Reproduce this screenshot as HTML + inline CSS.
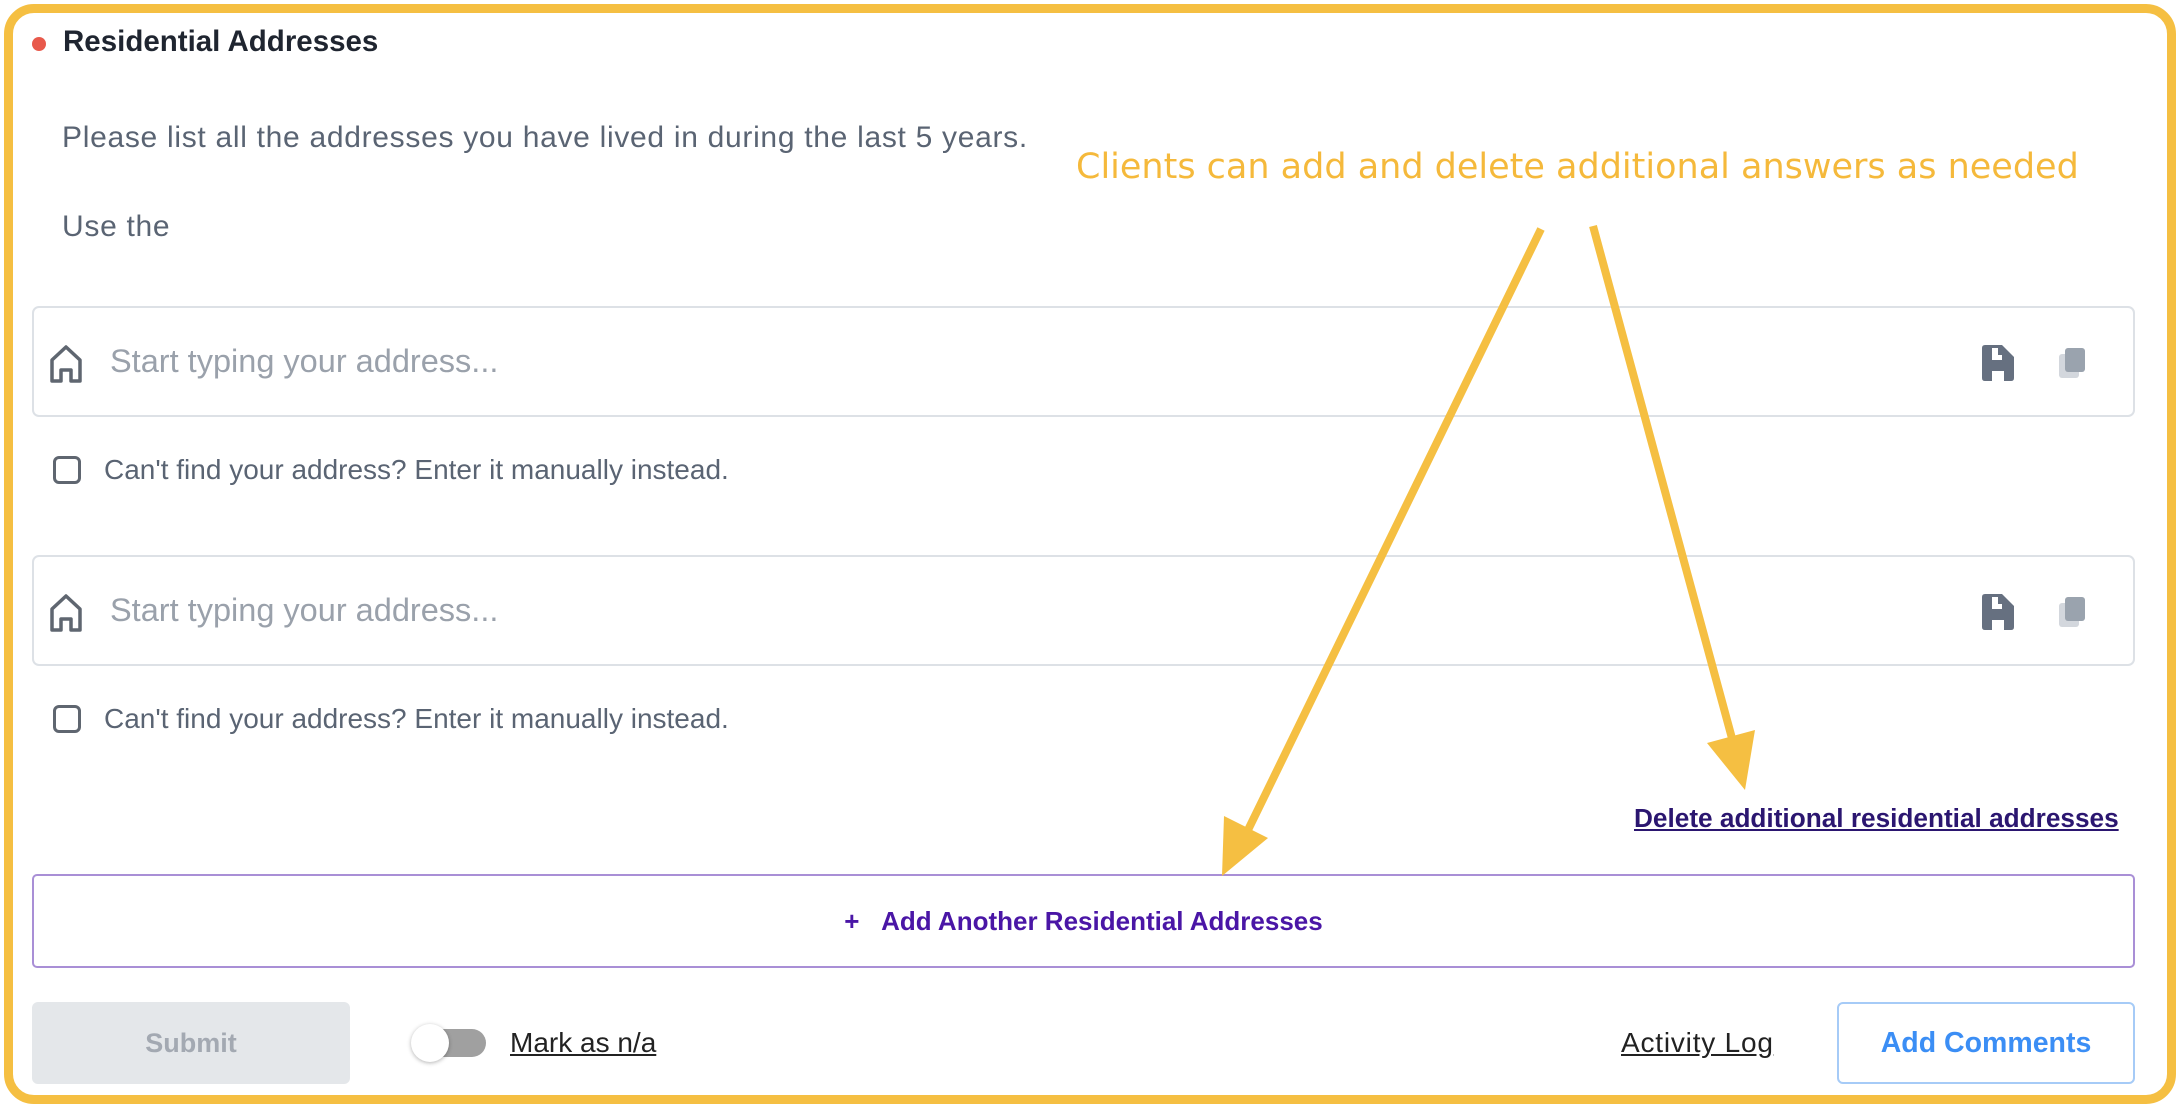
<!DOCTYPE html>
<html><head><meta charset="utf-8"><style>
*{margin:0;padding:0;box-sizing:border-box}
body{width:2180px;height:1110px;background:#fff;position:relative;overflow:hidden;font-family:"Liberation Sans",sans-serif}
.a{position:absolute;white-space:nowrap}
.frame{position:absolute;left:4px;top:4px;width:2172px;height:1100px;border:9px solid #f5bf42;border-radius:30px}
.box{position:absolute;left:32px;width:2103px;height:111px;border:2px solid #dde1e6;border-radius:7px}
.ph{font-size:32.5px;color:#9aa1ab;top:0;line-height:107px;left:76px}
.cb{position:absolute;width:28px;height:28px;border:3px solid #5f6670;border-radius:6px;left:53px}
.ct{font-size:28px;color:#5a6473;left:104px}
</style></head><body>
<div class="frame"></div>
<div class="a" style="left:32px;top:37px;width:14px;height:14px;border-radius:50%;background:#e8594b"></div>
<div class="a" style="left:63px;top:25px;font-size:29.5px;font-weight:bold;color:#1f2530">Residential Addresses</div>
<div class="a" style="left:62px;top:121px;font-size:30px;letter-spacing:0.7px;color:#5a6473">Please list all the addresses you have lived in during the last 5 years.</div>
<div class="a" style="left:62px;top:210px;font-size:30px;letter-spacing:0.7px;color:#5a6473">Use the</div>
<div class="a" style="left:1076px;top:147px;font-size:35px;color:#f5b93b;font-family:'DejaVu Sans',sans-serif">Clients can add and delete additional answers as needed</div>

<div class="box" style="top:306px">
<svg class="a" style="left:14px;top:36px" width="36" height="40" viewBox="0 0 36 40"><path d="M4 37V16L18 3L32 16V37H23V26H13V37Z" fill="none" stroke="#5f6670" stroke-width="3.5" stroke-linejoin="round"/></svg>
<div class="a ph">Start typing your address...</div>
<svg class="a" style="left:1946px;top:36px" width="36" height="38"><path d="M2 4Q2 1 5 1H22L34 13V34Q34 37 31 37H24V27H12V37H5Q2 37 2 34ZM12 4V16H22V11H18V4Z" fill="#667080"/></svg>
<svg class="a" style="left:2023px;top:38px" width="30" height="34"><rect x="2" y="8" width="20" height="24" rx="3" fill="#d3d7dd"/><rect x="8" y="2" width="20" height="24" rx="3" fill="#9aa3ae"/></svg>
</div>
<div class="cb" style="top:456px"></div>
<div class="a ct" style="top:454px">Can't find your address? Enter it manually instead.</div>

<div class="box" style="top:555px">
<svg class="a" style="left:14px;top:36px" width="36" height="40" viewBox="0 0 36 40"><path d="M4 37V16L18 3L32 16V37H23V26H13V37Z" fill="none" stroke="#5f6670" stroke-width="3.5" stroke-linejoin="round"/></svg>
<div class="a ph">Start typing your address...</div>
<svg class="a" style="left:1946px;top:36px" width="36" height="38"><path d="M2 4Q2 1 5 1H22L34 13V34Q34 37 31 37H24V27H12V37H5Q2 37 2 34ZM12 4V16H22V11H18V4Z" fill="#667080"/></svg>
<svg class="a" style="left:2023px;top:38px" width="30" height="34"><rect x="2" y="8" width="20" height="24" rx="3" fill="#d3d7dd"/><rect x="8" y="2" width="20" height="24" rx="3" fill="#9aa3ae"/></svg>
</div>
<div class="cb" style="top:705px"></div>
<div class="a ct" style="top:703px">Can't find your address? Enter it manually instead.</div>

<div class="a" style="left:1634px;top:803px;font-size:26.2px;font-weight:bold;color:#2b1670;text-decoration:underline">Delete additional residential addresses</div>

<div class="a" style="left:32px;top:874px;width:2103px;height:94px;border:2px solid #a98fd6;border-radius:5px;text-align:center;line-height:90px;font-size:26px;font-weight:bold;color:#4a16a6">+&nbsp;&nbsp;&nbsp;Add Another Residential Addresses</div>

<div class="a" style="left:32px;top:1002px;width:318px;height:82px;background:#e4e7ea;border-radius:6px;text-align:center;line-height:82px;font-size:27px;font-weight:bold;color:#a3a9b2">Submit</div>
<div class="a" style="left:418px;top:1029px;width:68px;height:28px;background:#a0a0a0;border-radius:14px"></div>
<div class="a" style="left:411px;top:1024px;width:38px;height:38px;background:#fff;border-radius:50%;box-shadow:0 1px 4px rgba(0,0,0,.3)"></div>
<div class="a" style="left:510px;top:1027px;font-size:28px;color:#222;text-decoration:underline">Mark as n/a</div>
<div class="a" style="left:1621px;top:1027px;font-size:28px;letter-spacing:0.8px;color:#222;text-decoration:underline">Activity Log</div>
<div class="a" style="left:1837px;top:1002px;width:298px;height:82px;border:2px solid #a6cbf7;border-radius:6px;text-align:center;line-height:78px;font-size:28.5px;font-weight:bold;color:#3b8ef5">Add Comments</div>

<svg class="a" style="left:0;top:0" width="2180" height="1110">
<line x1="1541" y1="229" x2="1248" y2="830" stroke="#f5bf42" stroke-width="8"/>
<polygon points="1222,876 1268,838 1224,816" fill="#f5bf42"/>
<line x1="1593" y1="226" x2="1733" y2="742" stroke="#f5bf42" stroke-width="8"/>
<polygon points="1745,790 1755,730 1707,743" fill="#f5bf42"/>
</svg>
</body></html>
